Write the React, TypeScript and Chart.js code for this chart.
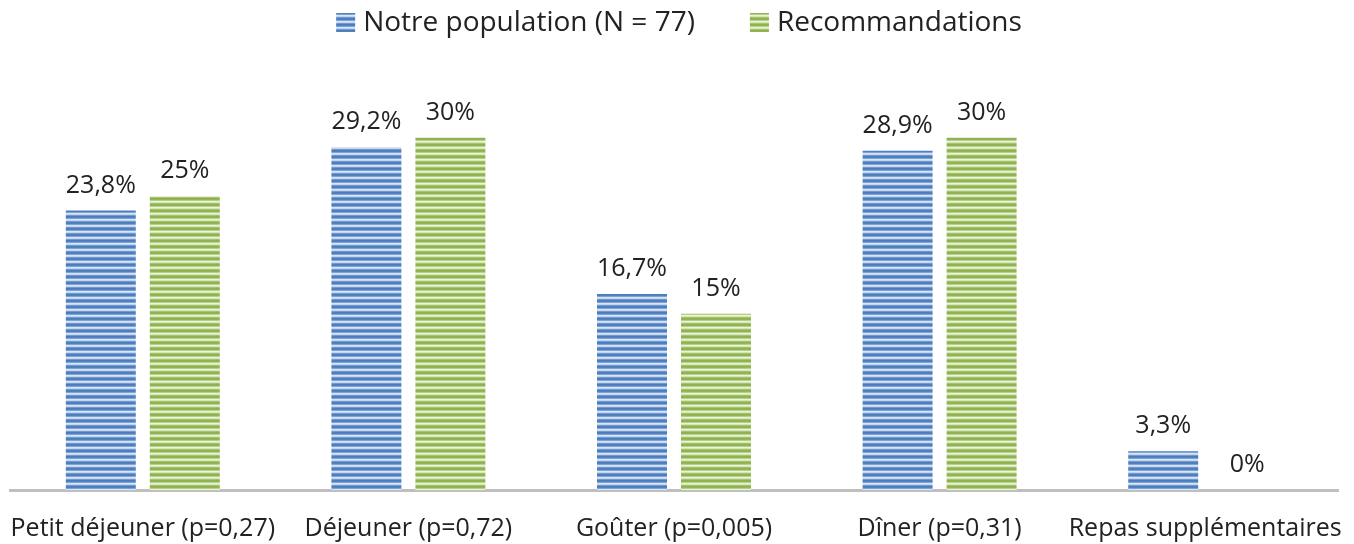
import React, { useEffect, useRef } from "react";
import { Chart, registerables } from "chart.js";

Chart.register(...registerables);

const categories = [
  "Petit déjeuner (p=0,27)",
  "Déjeuner (p=0,72)",
  "Goûter (p=0,005)",
  "Dîner (p=0,31)",
  "Repas supplémentaires",
];
const populationValues = [23.8, 29.2, 16.7, 28.9, 3.3];
const recommandationValues = [25, 30, 15, 30, 0];
const seriesLabels = ["Notre population (N = 77)", "Recommandations"];

const FONT = "'Open Sans', 'DejaVu Sans', sans-serif";
const TEXT = "#222222";

function makePattern(rows: string[]): CanvasPattern | string {
  const c = document.createElement("canvas");
  c.width = 4;
  c.height = rows.length;
  const ctx = c.getContext("2d");
  if (!ctx) return rows[0];
  rows.forEach((col, i) => {
    ctx.fillStyle = col;
    ctx.fillRect(0, i, 4, 1);
  });
  const p = ctx.createPattern(c, "repeat");
  return p || rows[0];
}

function fmt(v: number): string {
  return (Number.isInteger(v) ? String(v) : v.toFixed(1).replace(".", ",")) + "%";
}

const labelPlugin = {
  id: "barLabels",
  afterDatasetsDraw(chart: any) {
    const ctx = chart.ctx;
    ctx.save();
    ctx.font = `25px ${FONT}`;
    ctx.fillStyle = TEXT;
    ctx.textAlign = "center";
    ctx.textBaseline = "alphabetic";
    chart.data.datasets.forEach((ds: any, di: number) => {
      const meta = chart.getDatasetMeta(di);
      meta.data.forEach((bar: any, i: number) => {
        const v = ds.data[i];
        ctx.fillText(fmt(v), bar.x, bar.y - 18);
      });
    });
    ctx.restore();
  },
};

const legendPlugin = {
  id: "customLegend",
  afterDraw(chart: any) {
    const ctx = chart.ctx;
    ctx.save();
    ctx.font = `28px ${FONT}`;
    const box = 19;
    const gapText = 8;
    const gapItem = 55;
    const widths = chart.data.datasets.map((ds: any) => ctx.measureText(ds.label).width);
    const total = widths.reduce((a: number, w: number) => a + box + gapText + w, 0) + gapItem * (widths.length - 1);
    let x = 679 - total / 2;
    const boxTop = 13;
    chart.data.datasets.forEach((ds: any, i: number) => {
      ctx.fillStyle = ds.backgroundColor;
      ctx.fillRect(x, boxTop, box, box);
      x += box + gapText;
      ctx.fillStyle = TEXT;
      ctx.textAlign = "left";
      ctx.textBaseline = "alphabetic";
      ctx.fillText(ds.label, x, 31);
      x += widths[i] + gapItem;
    });
    ctx.restore();
  },
};

export default function App() {
  const ref = useRef<HTMLCanvasElement | null>(null);
  useEffect(() => {
    if (!ref.current) return;
    const blue = makePattern(["#4a7cc0", "#4f80c2", "#7ea2d3", "#dbe6f4", "#c2d4ec", "#7399cf"]);
    const green = makePattern(["#8db24c", "#92b654", "#b5cf85", "#edf3e1", "#d4e4b8", "#a6c46e"]);
    const chart = new Chart(ref.current, {
      type: "bar",
      data: {
        labels: categories,
        datasets: [
          { label: seriesLabels[0], data: populationValues, backgroundColor: blue as any, borderWidth: 0 },
          { label: seriesLabels[1], data: recommandationValues, backgroundColor: green as any, borderWidth: 0 },
        ],
      },
      plugins: [labelPlugin, legendPlugin],
      options: {
        responsive: false,
        animation: false,
        layout: { padding: { left: 10, right: 16, top: 79, bottom: 0 } },
        datasets: { bar: { categoryPercentage: 0.6325, barPercentage: 0.833 } },
        plugins: {
          tooltip: { enabled: false },
          legend: { display: false },
        },
        scales: {
          x: {
            grid: { display: false, drawTicks: false },
            border: { display: true, color: "#bfbfbf", width: 3 },
            ticks: { font: { size: 25, family: FONT }, color: TEXT, padding: 24, maxRotation: 0, autoSkip: false },
            afterFit: (scale: any) => {
              scale.height = 54;
              scale.paddingLeft = 0;
              scale.paddingRight = 0;
            },
          },
          y: { display: false, min: 0, max: 35 },
        },
      },
    });
    return () => chart.destroy();
  }, []);
  return (
    <div style={{ position: "fixed", left: 0, top: 0, width: 1354, height: 544, background: "#fff" }}>
      <canvas ref={ref} width={1354} height={544} style={{ display: "block" }} />
    </div>
  );
}
